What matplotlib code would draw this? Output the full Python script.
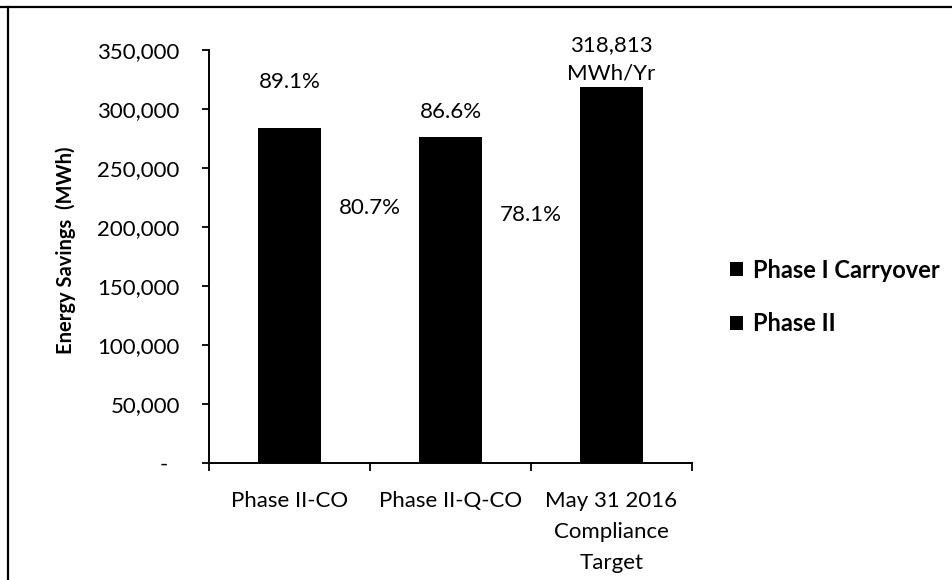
import matplotlib
matplotlib.use("Agg")
import matplotlib.pyplot as plt
from matplotlib.lines import Line2D
from matplotlib.ticker import FuncFormatter

plt.rcParams['font.family'] = ['Lato', 'DejaVu Sans']

categories = ["Phase II-CO", "Phase II-Q-CO", "May 31 2016\nCompliance\nTarget"]
phase2 = [257282, 248993, 318813]
carryover = [26780, 27099, 0]
series_names = ["Phase I Carryover", "Phase II"]
total_labels = ["89.1%", "86.6%", "318,813\nMWh/Yr"]
total_label_y = [322700, 297500, 342000]
phase2_labels = ["80.7%", "78.1%"]
phase2_label_x = [0.5, 1.5]
phase2_label_y = [216000, 210000]
yticks = [0, 50000, 100000, 150000, 200000, 250000, 300000, 350000]

fig = plt.figure(figsize=(9.53, 5.80), dpi=100)
ax = fig.add_axes([209/953, 1-463/580, (692-209)/953, (463-50)/580])

x = list(range(len(categories)))
b2 = ax.bar(x, phase2, width=0.39, color="black", label=series_names[1])
b1 = ax.bar(x, carryover, bottom=phase2, width=0.39, color="black", label=series_names[0])

ax.set_xlim(-0.5, 2.5)
ax.set_ylim(0, 350000)
ax.set_yticks(yticks)
ax.yaxis.set_major_formatter(FuncFormatter(lambda v, p: "-  " if v == 0 else f"{int(v):,}"))
ax.set_xticks(x)
ax.set_xticklabels(categories, fontsize=16, linespacing=1.7)
ax.set_xticks([-0.5, 0.5, 1.5, 2.5], minor=True)
ax.tick_params(axis='x', which='major', length=0, pad=20)
ax.tick_params(axis='x', which='minor', length=6, width=1.3, direction='out')
ax.tick_params(axis='y', length=5, width=1.3, direction='out', labelsize=16, pad=16)
for s in ['top', 'right']:
    ax.spines[s].set_visible(False)
for s in ['left', 'bottom']:
    ax.spines[s].set_linewidth(1.4)
ax.set_ylabel("Energy Savings  (MWh)", fontsize=14.5, fontweight='bold')
ax.yaxis.set_label_coords(-0.275, 0.516)

for xi, lab, yv in zip(x, total_labels, total_label_y):
    ax.text(xi, yv, lab, ha='center', va='center', fontsize=16, linespacing=1.55)
for xv, lab, yv in zip(phase2_label_x, phase2_labels, phase2_label_y):
    ax.text(xv, yv, lab, ha='center', va='center', fontsize=16)

ax.legend(handles=[b1, b2], loc='center left', bbox_to_anchor=(709/953, 1-297/580),
          bbox_transform=fig.transFigure, frameon=False,
          prop={'size': 17, 'weight': 'bold'},
          handlelength=0.55, handleheight=0.55, handletextpad=0.4, labelspacing=1.3)

fig.add_artist(Line2D([0, 1], [1-7/580, 1-7/580], transform=fig.transFigure, color='black', lw=1.6))
fig.add_artist(Line2D([8/953, 8/953], [0, 1-7/580], transform=fig.transFigure, color='black', lw=1.6))

fig.savefig("out.png", dpi=100)
